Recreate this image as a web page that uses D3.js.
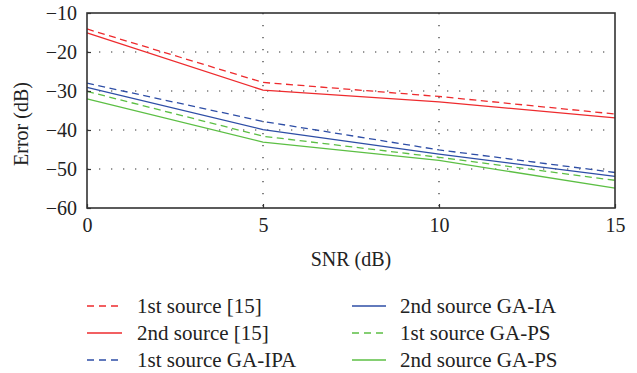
<!DOCTYPE html>
<html>
<head>
<meta charset="utf-8">
<script src="https://cdn.jsdelivr.net/npm/d3@7"></script>
<style>
  body { margin: 0; background: #fff; }
  svg text { font-family: "Liberation Serif", "DejaVu Serif", serif; fill: #222; }
</style>
</head>
<body>
<div id="chart"></div>
<script>
// data
var snr = [0, 5, 10, 15];
var src1Ref = [-14.1, -27.8, -31.4, -35.9];
var src2Ref = [-15.1, -29.8, -32.8, -36.9];
var src1IPA = [-28.0, -37.8, -45.1, -50.9];
var src2IA = [-29.1, -39.9, -46.2, -51.9];
var src1PS = [-30.1, -41.6, -47.0, -52.9];
var src2PS = [-32.0, -43.1, -47.8, -54.9];
var seriesNames = ["1st source [15]", "2nd source [15]", "1st source GA-IPA",
                   "2nd source GA-IA", "1st source GA-PS", "2nd source GA-PS"];
var xTicks = [0, 5, 10, 15];
var yTicks = [-60, -50, -40, -30, -20, -10];

var red = "#ee2b2e", blue = "#2e4ea6", green = "#5cbf44";
var series = [
  { name: seriesNames[0], values: src1Ref, color: red, dashed: true },
  { name: seriesNames[1], values: src2Ref, color: red, dashed: false },
  { name: seriesNames[2], values: src1IPA, color: blue, dashed: true },
  { name: seriesNames[3], values: src2IA, color: blue, dashed: false },
  { name: seriesNames[4], values: src1PS, color: green, dashed: true },
  { name: seriesNames[5], values: src2PS, color: green, dashed: false }
];

var margin = { top: 13, right: 22, bottom: 165, left: 87 },
  width = 637 - margin.left - margin.right,
  height = 373 - margin.top - margin.bottom;

var svgRoot = d3.select("#chart").append("svg")
  .attr("width", 637)
  .attr("height", 373);
var svg = svgRoot.append("g")
  .attr("transform", "translate(" + margin.left + "," + margin.top + ")");

var x = d3.scaleLinear().domain([0, 15]).range([0, width]);
var y = d3.scaleLinear().domain([-60, -10]).range([height, 0]);

// dotted grid
svg.selectAll(".hgrid")
  .data(yTicks.filter(function(d) { return d > -60 && d < -10; }))
  .enter().append("line")
  .attr("x1", 0).attr("x2", width)
  .attr("y1", function(d) { return y(d); })
  .attr("y2", function(d) { return y(d); })
  .attr("stroke", "#333").attr("stroke-width", 1.2)
  .attr("stroke-dasharray", "1.3,10.7");
svg.selectAll(".vgrid")
  .data(xTicks.filter(function(d) { return d > 0 && d < 15; }))
  .enter().append("line")
  .attr("y1", 0).attr("y2", height)
  .attr("x1", function(d) { return x(d); })
  .attr("x2", function(d) { return x(d); })
  .attr("stroke", "#333").attr("stroke-width", 1.2)
  .attr("stroke-dasharray", "1.3,10.7");

// lines
var line = d3.line()
  .x(function(d, i) { return x(snr[i]); })
  .y(function(d) { return y(d); });

svg.selectAll(".series")
  .data(series)
  .enter().append("path")
  .attr("d", function(d) { return line(d.values); })
  .attr("fill", "none")
  .attr("stroke", function(d) { return d.color; })
  .attr("stroke-width", 1.3)
  .attr("stroke-dasharray", function(d) { return d.dashed ? "7,4.5" : null; });

// axes
var xAxis = svg.append("g")
  .attr("transform", "translate(0," + height + ")")
  .call(d3.axisBottom(x).tickValues(xTicks).tickSize(-4).tickPadding(18));
var yAxis = svg.append("g")
  .call(d3.axisLeft(y).tickValues(yTicks).tickSize(-4).tickPadding(10)
    .tickFormat(function(d) { return "\u2212" + Math.abs(d); }));

[xAxis, yAxis].forEach(function(a) {
  a.select(".domain").remove();
  a.selectAll("line").attr("stroke", "#333").attr("stroke-width", 1.2);
  a.selectAll("text").style("font-size", "20px")
    .style("font-family", "'Liberation Serif', serif").attr("fill", "#222");
});
xAxis.selectAll("text").attr("dy", "0.3em");

// frame
svg.append("rect")
  .attr("width", width).attr("height", height)
  .attr("fill", "none").attr("stroke", "#333").attr("stroke-width", 1.6);

// axis titles
svg.append("text")
  .attr("x", width / 2).attr("y", 253)
  .attr("text-anchor", "middle")
  .style("font-size", "20px")
  .text("SNR (dB)");
svgRoot.append("text")
  .attr("transform", "translate(28,124)rotate(-90)")
  .attr("text-anchor", "middle")
  .style("font-size", "20px")
  .text("Error (dB)");

// legend
var legendCols = [{ x1: 87, x2: 122, tx: 137 }, { x1: 352, x2: 386, tx: 400 }];
var legendRows = [306, 333, 360];
var legend = svgRoot.selectAll(".legend")
  .data(series)
  .enter().append("g")
  .attr("transform", function(d, i) {
    return "translate(0," + legendRows[i % 3] + ")";
  });
legend.append("line")
  .attr("x1", function(d, i) { return legendCols[Math.floor(i / 3)].x1; })
  .attr("x2", function(d, i) { return legendCols[Math.floor(i / 3)].x2; })
  .attr("stroke", function(d) { return d.color; })
  .attr("stroke-width", 1.3)
  .attr("stroke-dasharray", function(d) { return d.dashed ? "7,5" : null; });
legend.append("text")
  .attr("x", function(d, i) { return legendCols[Math.floor(i / 3)].tx; })
  .attr("dy", "0.33em")
  .style("font-size", "21px")
  .text(function(d) { return d.name; });
</script>
</body>
</html>
